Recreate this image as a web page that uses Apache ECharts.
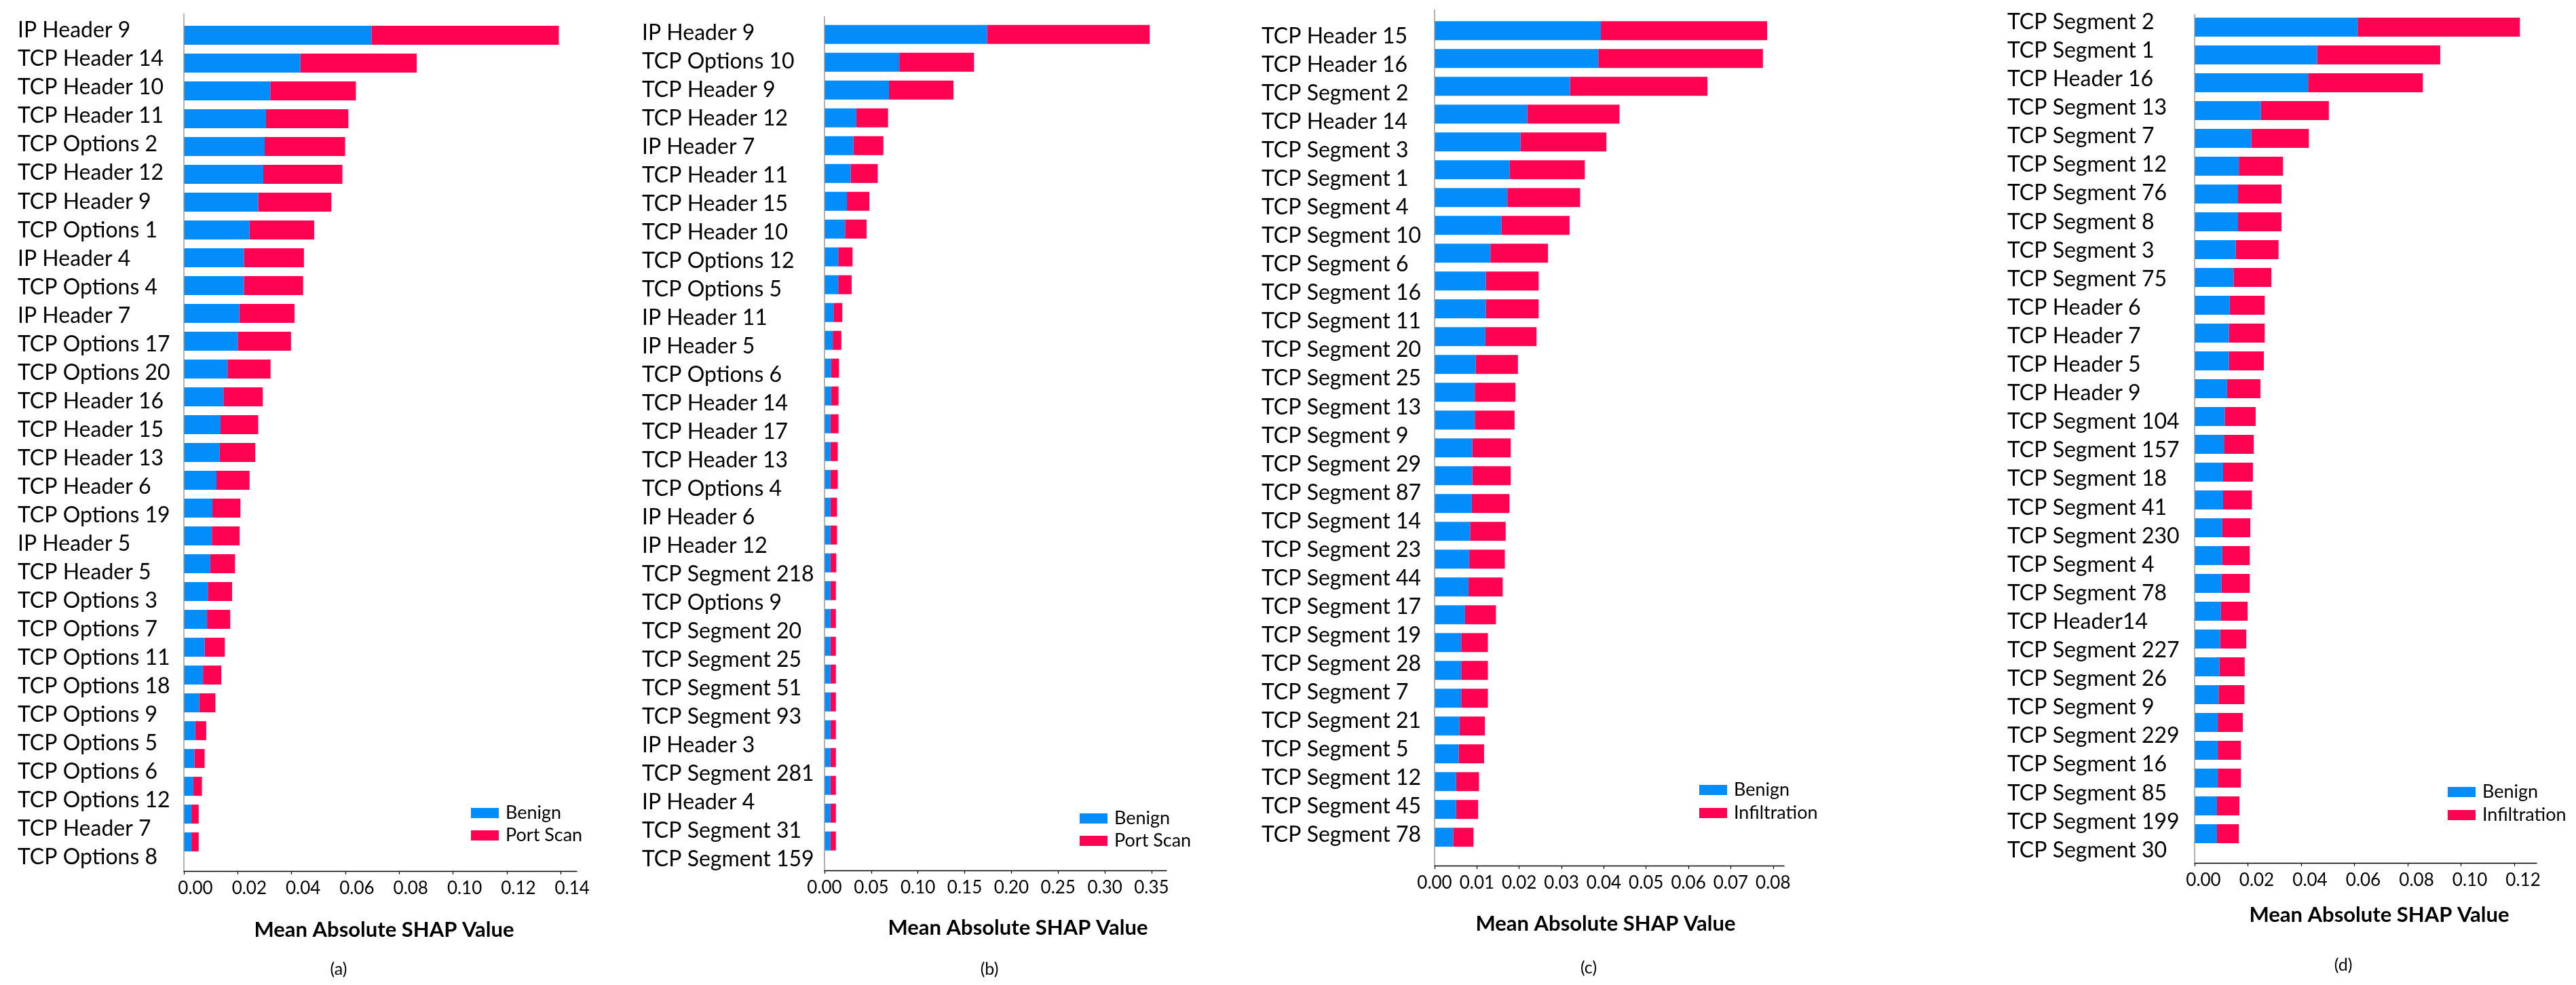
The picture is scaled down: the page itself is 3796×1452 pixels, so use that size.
<!DOCTYPE html>
<html>
<head>
<meta charset="utf-8">
<script src="https://cdn.jsdelivr.net/npm/echarts@6/dist/echarts.min.js"></script>
<style>
html,body{margin:0;padding:0;background:#fff;}
#chart{width:3796px;height:1452px;}
</style>
</head>
<body>
<div id="chart"></div>
<script>
// ---------------- DATA ----------------
const featuresA = ['IP Header 9','TCP Header 14','TCP Header 10','TCP Header 11','TCP Options 2','TCP Header 12','TCP Header 9','TCP Options 1','IP Header 4','TCP Options 4','IP Header 7','TCP Options 17','TCP Options 20','TCP Header 16','TCP Header 15','TCP Header 13','TCP Header 6','TCP Options 19','IP Header 5','TCP Header 5','TCP Options 3','TCP Options 7','TCP Options 11','TCP Options 18','TCP Options 9','TCP Options 5','TCP Options 6','TCP Options 12','TCP Header 7','TCP Options 8'];
const benignA = [0.0697,0.0433,0.0321,0.0305,0.0300,0.0295,0.0276,0.0244,0.0223,0.0223,0.0206,0.0200,0.0162,0.0147,0.0136,0.0133,0.0121,0.0106,0.0104,0.0098,0.0089,0.0086,0.0077,0.0071,0.0057,0.0042,0.0039,0.0035,0.0028,0.0028];
const portScanA = [0.0696,0.0432,0.0318,0.0306,0.0299,0.0294,0.0272,0.0240,0.0223,0.0220,0.0205,0.0198,0.0160,0.0146,0.0140,0.0132,0.0123,0.0104,0.0103,0.0092,0.0090,0.0086,0.0075,0.0068,0.0060,0.0041,0.0038,0.0032,0.0027,0.0027];
const ticksA = [0,0.02,0.04,0.06,0.08,0.10,0.12,0.14];

const featuresB = ['IP Header 9','TCP Options 10','TCP Header 9','TCP Header 12','IP Header 7','TCP Header 11','TCP Header 15','TCP Header 10','TCP Options 12','TCP Options 5','IP Header 11','IP Header 5','TCP Options 6','TCP Header 14','TCP Header 17','TCP Header 13','TCP Options 4','IP Header 6','IP Header 12','TCP Segment 218','TCP Options 9','TCP Segment 20','TCP Segment 25','TCP Segment 51','TCP Segment 93','IP Header 3','TCP Segment 281','IP Header 4','TCP Segment 31','TCP Segment 159'];
const benignB = [0.174,0.080,0.069,0.034,0.031,0.028,0.024,0.022,0.0147,0.0147,0.0096,0.0088,0.0071,0.0071,0.0063,0.0063,0.0063,0.0063,0.0063,0.0063,0.0063,0.0063,0.0063,0.0063,0.0063,0.0063,0.0063,0.0063,0.0063,0.0063];
const portScanB = [0.174,0.080,0.069,0.034,0.032,0.029,0.024,0.023,0.0153,0.0143,0.0094,0.0092,0.0084,0.0079,0.0087,0.0079,0.0079,0.0071,0.0071,0.0063,0.0059,0.0059,0.0059,0.0059,0.0059,0.0059,0.0059,0.0059,0.0059,0.0059];
const ticksB = [0,0.05,0.10,0.15,0.20,0.25,0.30,0.35];

// panel (c): 29 labels are printed beside 30 bars in the source figure
const featuresC = ['TCP Header 15','TCP Header 16','TCP Segment 2','TCP Header 14','TCP Segment 3','TCP Segment 1','TCP Segment 4','TCP Segment 10','TCP Segment 6','TCP Segment 16','TCP Segment 11','TCP Segment 20','TCP Segment 25','TCP Segment 13','TCP Segment 9','TCP Segment 29','TCP Segment 87','TCP Segment 14','TCP Segment 23','TCP Segment 44','TCP Segment 17','TCP Segment 19','TCP Segment 28','TCP Segment 7','TCP Segment 21','TCP Segment 5','TCP Segment 12','TCP Segment 45','TCP Segment 78'];
const benignC = [0.0393,0.0387,0.0320,0.0219,0.0203,0.0177,0.0172,0.0158,0.0132,0.0121,0.0121,0.0120,0.0097,0.0095,0.0095,0.0089,0.0089,0.0088,0.0084,0.0082,0.0080,0.0072,0.0063,0.0063,0.0063,0.0059,0.0057,0.0051,0.0051,0.0044];
const infiltrationC = [0.0393,0.0389,0.0325,0.0218,0.0203,0.0178,0.0172,0.0161,0.0136,0.0125,0.0125,0.0121,0.0100,0.0096,0.0094,0.0091,0.0091,0.0089,0.0084,0.0084,0.0081,0.0073,0.0063,0.0063,0.0063,0.0060,0.0060,0.0054,0.0052,0.0048];
const ticksC = [0,0.01,0.02,0.03,0.04,0.05,0.06,0.07,0.08];

const featuresD = ['TCP Segment 2','TCP Segment 1','TCP Header 16','TCP Segment 13','TCP Segment 7','TCP Segment 12','TCP Segment 76','TCP Segment 8','TCP Segment 3','TCP Segment 75','TCP Header 6','TCP Header 7','TCP Header 5','TCP Header 9','TCP Segment 104','TCP Segment 157','TCP Segment 18','TCP Segment 41','TCP Segment 230','TCP Segment 4','TCP Segment 78','TCP Header14','TCP Segment 227','TCP Segment 26','TCP Segment 9','TCP Segment 229','TCP Segment 16','TCP Segment 85','TCP Segment 199','TCP Segment 30'];
const benignD = [0.0612,0.0460,0.0426,0.0249,0.0213,0.0166,0.0163,0.0163,0.0154,0.0146,0.0132,0.0129,0.0129,0.0122,0.0113,0.0110,0.0107,0.0107,0.0104,0.0104,0.0101,0.0099,0.0096,0.0093,0.0090,0.0087,0.0087,0.0087,0.0084,0.0084];
const infiltrationD = [0.0609,0.0462,0.0431,0.0255,0.0216,0.0166,0.0163,0.0163,0.0161,0.0142,0.0131,0.0134,0.0131,0.0125,0.0116,0.0112,0.0112,0.0108,0.0105,0.0103,0.0106,0.0100,0.0098,0.0095,0.0097,0.0094,0.0087,0.0087,0.0084,0.0082];
const ticksD = [0,0.02,0.04,0.06,0.08,0.10,0.12];

const axisTitle = 'Mean Absolute SHAP Value';
const seriesNames = {benign:'Benign', portScan:'Port Scan', infiltration:'Infiltration'};

// ---------------- LAYOUT / STYLE ----------------
const BLUE = '#028DFA';
const RED = '#FF0252';
const FONT = 'Lato';

const rankCats = arr => arr.map((_, i) => String(i + 1));

const panels = [
  {labels: featuresA, cats: featuresA, benign: benignA, attack: portScanA, attackName: seriesNames.portScan, ticks: ticksA,
   axisX: 271, axisEnd: 850, max: 0.146, barTop: 31.6, barH: 1230, axisY: 1284, yLineTop: 20,
   labTop: 24, labH: 1261, labMargin: 245, tickPad: [0,0,0,34],
   legendLeft: 694, legendTop: 1185, legendGap: 6, titleX: 566, titleY: 1371, capX: 499, capY: 1429, cap: '(a)'},
  {labels: featuresB, cats: featuresB, benign: benignB, attack: portScanB, attackName: seriesNames.portScan, ticks: ticksB,
   axisX: 1215, axisEnd: 1719, max: 0.366, barTop: 30.2, barH: 1230, axisY: 1283, yLineTop: 24,
   labTop: 28, labH: 1260, labMargin: 269, tickPad: [0,0,0,0],
   legendLeft: 1591, legendTop: 1193, legendGap: 6, titleX: 1500, titleY: 1368, capX: 1458, capY: 1429, cap: '(b)'},
  {labels: featuresC, cats: rankCats(benignC), benign: benignC, attack: infiltrationC, attackName: seriesNames.infiltration, ticks: ticksC,
   axisX: 2114, axisEnd: 2629, max: 0.0826, barTop: 24.7, barH: 1230, axisY: 1276, yLineTop: 14,
   labTop: 32.5, labH: 1219.5, labMargin: 255, tickPad: [0,0,0,0],
   legendLeft: 2504, legendTop: 1151, legendGap: 7, titleX: 2366, titleY: 1362, capX: 2341, capY: 1427, cap: '(c)'},
  {labels: featuresD, cats: featuresD, benign: benignD, attack: infiltrationD, attackName: seriesNames.infiltration, ticks: ticksD,
   axisX: 3234, axisEnd: 3738, max: 0.1284, barTop: 19.5, barH: 1230, axisY: 1272, yLineTop: 21,
   labTop: 11.5, labH: 1263, labMargin: 276, tickPad: [0,0,0,26],
   legendLeft: 3607, legendTop: 1154, legendGap: 7, titleX: 3506, titleY: 1349, capX: 3453, capY: 1423, cap: '(d)'}
];

const grid = [], xAxis = [], yAxis = [], series = [], legend = [], graphic = [];

panels.forEach((p, i) => {
  const width = p.axisEnd - p.axisX;
  grid.push({left: p.axisX, top: p.barTop, width: width, height: p.barH, containLabel: false, outerBoundsMode: 'none'});
  grid.push({left: p.axisX, top: p.labTop, width: width, height: p.labH, containLabel: false, outerBoundsMode: 'none'});

  xAxis.push({
    type: 'value', gridIndex: 2 * i, min: 0, max: p.max, position: 'bottom',
    offset: p.axisY - (p.barTop + p.barH),
    axisLine: {show: true, lineStyle: {color: '#000', width: 1.4}},
    axisTick: {show: true, length: 5, lineStyle: {color: '#000', width: 1.2}, customValues: p.ticks},
    axisLabel: {show: true, customValues: p.ticks, formatter: v => Number(v).toFixed(2),
      fontFamily: FONT, fontSize: 26, color: '#000', margin: 13, padding: p.tickPad,
      showMinLabel: true, showMaxLabel: true},
    splitLine: {show: false}
  });
  xAxis.push({type: 'value', gridIndex: 2 * i + 1, min: 0, max: 1, show: false});

  yAxis.push({
    type: 'category', gridIndex: 2 * i, data: p.cats, inverse: true,
    axisLine: {show: false}, axisTick: {show: false}, axisLabel: {show: false}, splitLine: {show: false}
  });
  yAxis.push({
    type: 'category', gridIndex: 2 * i + 1, data: p.labels, inverse: true,
    axisLine: {show: false}, axisTick: {show: false}, splitLine: {show: false},
    axisLabel: {show: true, interval: 0, align: 'left', margin: p.labMargin,
      fontFamily: FONT, fontSize: 32, color: '#000'}
  });

  series.push({
    name: seriesNames.benign, type: 'bar', stack: 'p' + i, xAxisIndex: 2 * i, yAxisIndex: 2 * i,
    data: p.benign, barWidth: 28, itemStyle: {color: BLUE}, silent: true
  });
  series.push({
    name: p.attackName, type: 'bar', stack: 'p' + i, xAxisIndex: 2 * i, yAxisIndex: 2 * i,
    data: p.attack, barWidth: 28, itemStyle: {color: RED}, silent: true
  });

  legend.push({
    orient: 'vertical', left: p.legendLeft, top: p.legendTop, padding: 0,
    itemWidth: 41, itemHeight: 15, itemGap: p.legendGap, selectedMode: false,
    textStyle: {fontFamily: FONT, fontSize: 27, color: '#000', padding: [0, 0, 0, 5]},
    data: [{name: seriesNames.benign, icon: 'rect'}, {name: p.attackName, icon: 'rect'}]
  });

  graphic.push({
    type: 'line', silent: true, z: 10,
    shape: {x1: p.axisX, y1: p.yLineTop, x2: p.axisX, y2: p.axisY},
    style: {stroke: '#999', lineWidth: 1.5}
  });
  graphic.push({
    type: 'text', silent: true,
    style: {x: p.titleX, y: p.titleY, text: axisTitle, textAlign: 'center', textVerticalAlign: 'middle',
      font: 'bold 31px ' + FONT, fill: '#000'}
  });
  graphic.push({
    type: 'text', silent: true,
    style: {x: p.capX, y: p.capY, text: p.cap, textAlign: 'center', textVerticalAlign: 'middle',
      font: '25px ' + FONT, fill: '#000'}
  });
});

const chart = echarts.init(document.getElementById('chart'), null, {renderer: 'canvas'});
chart.setOption({
  backgroundColor: '#fff',
  animation: false,
  grid, xAxis, yAxis, series, legend, graphic
});
</script>
</body>
</html>
